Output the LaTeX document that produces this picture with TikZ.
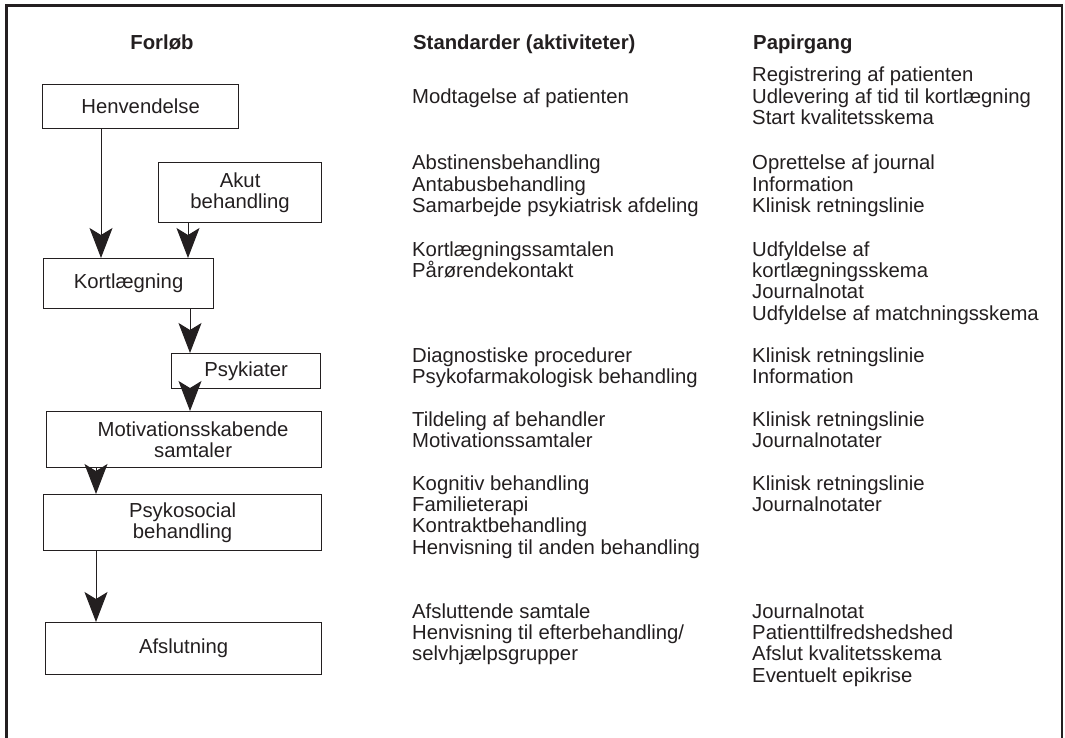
\documentclass[tikz,border=0pt]{standalone}
\usepackage{fontspec}
\setmainfont{Liberation Sans}
\usetikzlibrary{arrows.meta}
\definecolor{ink}{HTML}{231F20}

% one line of text per node, lines stacked on a fixed baseline grid
\newcommand\textblock[4]{%
  \foreach \ln [count=\k] in {#4} {
    \node[line] (#1-\k) at (#2, #3 + 21.4*\k - 21.4) {\ln};
  }%
}

\begin{document}
\begin{tikzpicture}[x=1pt, y=-1pt,
  every node/.style={text=ink, font=\fontsize{20.3}{21.4}\selectfont},
  stage/.style={draw=ink, line width=1.2pt, inner sep=0pt, anchor=north west, align=center},
  line/.style={anchor=base west, inner sep=0pt},
  head/.style={anchor=base, inner sep=0pt, font=\fontsize{20.3}{21.4}\selectfont\bfseries},
  flow/.style={draw=ink, line width=1pt, -{Stealth[length=30pt, width=23pt, inset=7pt]}},
  frame/.style={draw=ink, line width=2.4pt}
]
\useasboundingbox (0,0) rectangle (1065,738);

% outer frame, open at the bottom
\draw[frame] (6.5,738) -- (6.5,5.5) -- (1062,5.5) -- (1062,738);

% column headings
\node[head] (hforl) at (162,50) {Forløb};
\node[head, anchor=base west] (hstd) at (413,50) {Standarder (aktiviteter)};
\node[head, anchor=base west] (hpap) at (753,50) {Papirgang};

% course of treatment
\node[stage, minimum width=196pt, minimum height=44pt] (henv) at (42,84) {Henvendelse};
\node[stage, minimum width=163pt, minimum height=60pt] (akut) at (158,162) {Akut\\behandling};
\node[stage, minimum width=170pt, minimum height=50pt] (kort) at (43,258) {Kortlægning};
\node[stage, minimum width=149pt, minimum height=35pt] (psyk) at (171,353) {Psykiater};
\node[stage, minimum width=275pt, minimum height=56pt] (motiv) at (46,411)
  {\hspace*{18pt}Motivationsskabende\\\hspace*{18pt}samtaler};
\node[stage, minimum width=278pt, minimum height=56pt] (psoc) at (43,494) {Psykosocial\\behandling};
\node[stage, minimum width=276pt, minimum height=52pt] (afsl) at (45,622) {Afslutning};

% x positions of the connectors
\coordinate (xa) at (101,0);
\coordinate (xb) at (188,0);
\coordinate (xc) at (190,0);
\coordinate (xd) at (96,0);

\draw[flow] (henv.south -| xa) -- (kort.north -| xa);
\draw[flow] (akut.south -| xb) -- (kort.north -| xb);
\draw[flow] (kort.south -| xc) -- (psyk.north -| xc);
\draw[flow] (psyk.south -| xc) -- (motiv.north -| xc);
\draw[flow] (motiv.south -| xd) -- (psoc.north -| xd);
\draw[flow] (psoc.south -| xd) -- (afsl.north -| xd);

% standards (activities)
\textblock{s1}{412}{104}{Modtagelse af patienten}
\textblock{s2}{412}{170}{Abstinensbehandling,Antabusbehandling,Samarbejde psykiatrisk afdeling}
\textblock{s3}{412}{256}{Kortlægningssamtalen,Pårørendekontakt}
\textblock{s4}{412}{362}{Diagnostiske procedurer,Psykofarmakologisk behandling}
\textblock{s5}{412}{426}{Tildeling af behandler,Motivationssamtaler}
\textblock{s6}{412}{490}{Kognitiv behandling,Familieterapi,Kontraktbehandling,Henvisning til anden behandling}
\textblock{s7}{412}{618}{Afsluttende samtale,Henvisning til efterbehandling/,selvhjælpsgrupper}

% paperwork
\textblock{p1}{752}{82}{Registrering af patienten,Udlevering af tid til kortlægning,Start kvalitetsskema}
\textblock{p2}{752}{170}{Oprettelse af journal,Information,Klinisk retningslinie}
\textblock{p3}{752}{256}{Udfyldelse af,kortlægningsskema,Journalnotat,Udfyldelse af matchningsskema}
\textblock{p4}{752}{362}{Klinisk retningslinie,Information}
\textblock{p5}{752}{426}{Klinisk retningslinie,Journalnotater}
\textblock{p6}{752}{490}{Klinisk retningslinie,Journalnotater}
\textblock{p7}{752}{618}{Journalnotat,Patienttilfredshedshed,Afslut kvalitetsskema,Eventuelt epikrise}
\end{tikzpicture}
\end{document}
